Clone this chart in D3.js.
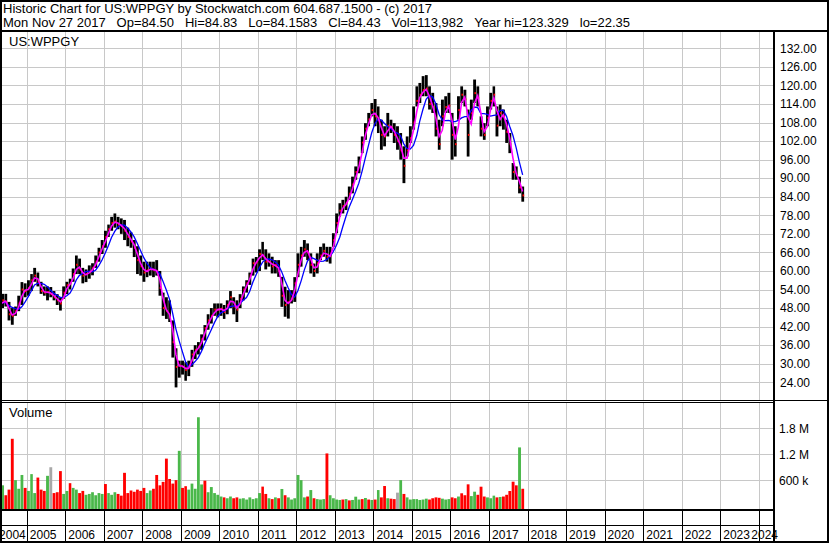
<!DOCTYPE html>
<meta charset="utf-8">
<style>
body { margin: 0; background: #fff; }
svg { display: block; font-family: "Liberation Sans", Arial, sans-serif; }
.grid line { stroke: #c8c8c8; stroke-width: 1; shape-rendering: crispEdges; }
.frame line, .frame rect { stroke: #000; fill: none; shape-rendering: crispEdges; }
.axis text { font-size: 12px; fill: #000; }
.title text { font-size: 13px; fill: #000; }
</style>

<svg width="830" height="543"></svg>

<script src="https://cdnjs.cloudflare.com/ajax/libs/d3/7.8.5/d3.min.js"></script>
<script>

// Monthly bars, first one is Apr 2004 (month index 3)
var firstYear = 2004, firstMonth = 3;

var highs = [
  52, 52.6, 52.6, 50, 48, 48.5, 52, 56.4, 56,                        // 2004 Apr-Dec
  57, 59, 61, 59.5, 56.5, 55, 55, 54.8, 53.5, 52.5, 51.5, 55,         // 2005
  56.5, 57.5, 60.8, 65, 64, 61, 60.5, 61.8, 62.5, 65, 67.5, 70,       // 2006
  73, 75, 77.5, 78.6, 77.5, 77, 76.5, 74, 72.5, 70, 68, 65,           // 2007
  63, 63, 63, 63, 63.5, 60, 53, 51.5, 50.5, 44, 35, 31,               // 2008
  31, 30.5, 31, 34.5, 36, 37, 39.5, 42.5, 46, 48, 49.5, 49.5,         // 2009
  49.5, 49, 50.5, 53.5, 51.5, 50.5, 52.5, 55, 57, 59.5, 64, 64.5,     // 2010
  67, 69.4, 67, 65.7, 64.6, 63.5, 63.5, 58.1, 54.9, 53.8, 53.8, 58,   // 2011
  65.7, 67.8, 70, 68.9, 65.7, 62.4, 65.7, 67.8, 68.9, 67.8, 67.8, 72.2, // 2012
  78.6, 81.9, 83, 84, 87.3, 90.5, 93.8, 97, 103.5, 107.8, 111.1, 114.3, // 2013
  115.6, 113.2, 108.9, 106.8, 111.1, 108.9, 107.8, 106.8, 104.6, 100.3, 103.5, 106.8, // 2014
  113.2, 119.7, 120.8, 123, 123.329, 119.7, 117.6, 114.3, 108.9, 115.4, 116.5, 117.6, // 2015
  111.1, 106.8, 116.5, 119.7, 118.6, 112.2, 115.4, 121.9, 119.7, 110, 107.8, 113.2,   // 2016
  117.6, 119.7, 113.2, 113.8, 112.2, 108.9, 104.6, 94.9, 93.8, 90.5, 87.3             // 2017 Jan-Nov
];

var lows = [
  47, 48, 48.5, 44, 42.6, 45.5, 47, 49, 51.5,
  52, 53.5, 56.5, 55, 52.6, 52, 50.5, 51.5, 50.5, 49, 47.2, 51,
  52.5, 54, 56.5, 59, 59, 56, 56.4, 57.5, 58.6, 61, 63, 65.5,
  67.5, 71, 73, 74, 73.5, 72, 70, 68, 67.5, 64.5, 59, 58.5,
  56.5, 58, 58.5, 58, 58.5, 52, 45.5, 44.5, 43.5, 32, 22.35, 25.5,
  26.5, 24.5, 26, 29, 31.5, 33, 34.5, 37.5, 41, 43, 45.5, 45,
  45.5, 44.5, 46, 48, 46, 43.5, 48, 50.5, 53, 55.5, 58.5, 59.5,
  60, 63.5, 60.5, 61.4, 59.2, 59.2, 58.1, 48.4, 45.2, 44.6, 49.5, 50,
  58, 61.4, 64.6, 63.5, 59.2, 58.1, 59.2, 63.5, 64.6, 63, 62.4, 67.8,
  72.2, 77.6, 78.6, 79.7, 83, 85.1, 89.5, 91.6, 98.1, 102.4, 106.8, 110,
  106.8, 104.6, 99.2, 100.3, 103.5, 104.6, 101.4, 99.2, 96, 88.4, 97, 101.4,
  105.7, 113.2, 114.3, 116.5, 116.5, 112.2, 111.1, 103.5, 99.2, 106.8, 111.1, 111.1,
  96, 97, 108.9, 114.3, 113.2, 97, 108.9, 114.3, 113.2, 103.5, 102.4, 106.8,
  112.2, 113.2, 103.5, 106.8, 105.7, 101.4, 98.1, 89.5, 89.5, 85.1, 82.4
];

var closes = [
  49, 50.5, 50, 46, 45.5, 47, 49.5, 54, 53.5,
  54.5, 57, 58.5, 56.5, 53.5, 53, 53.2, 52.5, 51.5, 50.5, 49.5, 53,
  55.4, 56, 59, 62, 60.5, 58.5, 59, 59.7, 61, 63, 66, 68,
  71, 73.5, 75.5, 76, 75, 74.5, 73, 71, 69.5, 67.5, 63.5, 61.5,
  59.5, 60.2, 60.8, 60.2, 60, 54.5, 48, 47, 45, 37, 29, 29.5,
  29, 28, 29, 33, 34.5, 35.5, 38, 41.5, 44, 45.5, 47.5, 47.5,
  47.8, 46.7, 49, 51.5, 48.5, 47.5, 51, 54, 56, 58.5, 62.5, 62.8,
  65.5, 65, 63, 63, 61.5, 62, 60, 52, 49, 50, 51, 56,
  62, 65, 67, 66, 62, 60, 62.5, 65, 66.5, 64.5, 65, 70,
  75.5, 79.5, 81, 82, 85, 88, 92, 95, 101.5, 106, 109, 112,
  110, 109, 104, 103.5, 107, 106.5, 104, 102, 99, 94, 99, 103,
  108, 115, 117, 118.5, 119, 114, 113, 106, 101, 110, 113, 113.5,
  104, 101, 112, 117, 115.5, 104, 111, 117.5, 116, 106, 104, 109.5,
  115, 117, 107, 111, 110, 105, 101, 92, 91, 87, 84.43
];

// volume in thousands of shares
var volumes = [
  300, 480, 250, 380, 1560, 600, 400, 720, 420,
  350, 740, 300, 660, 380, 350, 700, 900, 300, 320, 810, 280,
  350, 530, 420, 380, 300, 350, 260, 280, 320, 250, 300, 280,
  510, 300, 260, 320, 280, 240, 770, 300, 360, 330, 380, 350,
  420, 300, 360, 400, 720, 480, 560, 1100, 627, 520, 600, 1280,
  420, 460, 380, 520, 400, 2060, 500, 588, 320, 440, 300, 260,
  220, 200, 180, 220, 180, 200, 170, 180, 150, 200, 160, 180,
  300, 450, 280, 180, 160, 200, 180, 395, 250, 200, 150, 180,
  720, 600, 200, 220, 370, 180, 160, 150, 160, 1220, 250, 180,
  150, 140, 150, 160, 130, 140, 216, 150, 160, 186, 150, 140,
  150, 370, 200, 464, 180, 170, 160, 310, 600, 280, 200, 150,
  160, 160, 140, 150, 170, 150, 180, 200, 190, 170, 150, 160,
  200, 180, 220, 295, 250, 503, 230, 332, 260, 448, 220, 200,
  180, 240, 200, 210, 220, 260, 348, 564, 480, 1360, 400
];

// g = up, r = down, n = unchanged
var volTone = [
  "ggrrrgggr", "gggrrrgnrrrg", "grggrrgggggg", "rgggrrrrrrrr", "rggrrrrrrrrg",
  "rrgggggrgggg", "grggrrgggggg", "grrgrgrgrggg", "gggrgrgggrgg", "ggrgrgggrgrg",
  "rgrrgrrngrgg", "gggggrrrrggg", "rrgrrrggrrrg", "ggrgrrrrrgr"
].join("");

var priceTicks = [24, 30, 36, 42, 48, 54, 60, 66, 72, 78, 84, 90, 96, 102, 108, 114, 120, 126, 132];
var volTicks = [600, 1200, 1800];
var volTickLabels = ["600 k", "1.2 M", "1.8 M"];
var years = [2004, 2005, 2006, 2007, 2008, 2009, 2010, 2011, 2012, 2013, 2014,
             2015, 2016, 2017, 2018, 2019, 2020, 2021, 2022, 2023, 2024];

var headLine1 = "Historic Chart for US:WPPGY by Stockwatch.com 604.687.1500 - (c) 2017";
var headFields = ["Mon Nov 27 2017", "Op=84.50", "Hi=84.83", "Lo=84.1583", "Cl=84.43",
                  "Vol=113,982", "Year hi=123.329", "lo=22.35"];

var toneColor = { g: "#4ab84a", r: "#ff0000", n: "#a8a8a8" };

var svg = d3.select("svg");
var plotRight = 774;

var x = d3.scaleTime()
    .domain([new Date(2004, 3, 22), new Date(2024, 4, 25)])
    .range([0, plotRight]);
var y = d3.scaleLinear().domain([24, 132]).range([382.3, 48.3]);
var yv = d3.scaleLinear().domain([0, 2400]).range([506, 402.6]);

function crisp(v) { return Math.round(v) + 0.5; }
function monthStart(i) { return new Date(firstYear, firstMonth + i, 1); }
function monthMid(i) { return new Date(firstYear, firstMonth + i, 15); }

// moving averages of the monthly closes
function movingAvg(n) {
  return closes.map(function(d, i) {
    return d3.mean(closes.slice(Math.max(0, i - n + 1), i + 1));
  });
}
var maFast = movingAvg(2), maSlow = movingAvg(5);

var defs = svg.append("defs");
defs.append("clipPath").attr("id", "clipPrice")
  .append("rect").attr("x", 0).attr("y", 33).attr("width", plotRight).attr("height", 366);
defs.append("clipPath").attr("id", "clipVol")
  .append("rect").attr("x", 0).attr("y", 403).attr("width", plotRight).attr("height", 106);

// Grid
var grid = svg.append("g").attr("class", "grid");
grid.selectAll(".hp").data(priceTicks).enter().append("line")
    .attr("x1", 0).attr("x2", plotRight)
    .attr("y1", function(d) { return crisp(y(d)); })
    .attr("y2", function(d) { return crisp(y(d)); });
grid.selectAll(".hv").data(volTicks).enter().append("line")
    .attr("x1", 0).attr("x2", plotRight)
    .attr("y1", function(d) { return crisp(yv(d)); })
    .attr("y2", function(d) { return crisp(yv(d)); });
var gridYears = years.slice(1);
grid.selectAll(".vp").data(gridYears).enter().append("line")
    .attr("x1", function(d) { return crisp(x(new Date(d, 0, 1))); })
    .attr("x2", function(d) { return crisp(x(new Date(d, 0, 1))); })
    .attr("y1", 32).attr("y2", 400);
grid.selectAll(".vv").data(gridYears).enter().append("line")
    .attr("x1", function(d) { return crisp(x(new Date(d, 0, 1))); })
    .attr("x2", function(d) { return crisp(x(new Date(d, 0, 1))); })
    .attr("y1", 402).attr("y2", 509);

// Price bars
var price = svg.append("g").attr("clip-path", "url(#clipPrice)");
price.selectAll(".bar").data(closes).enter().append("rect")
    .attr("x", function(d, i) { return x(monthStart(i)) + 0.2; })
    .attr("width", function(d, i) { return x(monthStart(i + 1)) - x(monthStart(i)) - 0.4; })
    .attr("y", function(d, i) { return y(highs[i]); })
    .attr("height", function(d, i) { return y(lows[i]) - y(highs[i]); })
    .attr("fill", "#000");
price.selectAll(".tick").data(closes).enter().append("rect")
    .attr("x", function(d, i) { return x(monthStart(i + 1)) - 1.8; })
    .attr("width", 1.6)
    .attr("y", function(d) { return y(d) - 1; })
    .attr("height", 2)
    .attr("fill", "#ff0000");

var line = d3.line()
    .x(function(d, i) { return x(monthMid(i)); })
    .y(function(d) { return y(d); });
price.append("path").datum(maSlow)
    .attr("d", line).attr("fill", "none").attr("stroke", "#0000ff").attr("stroke-width", 1.3);
price.append("path").datum(maFast)
    .attr("d", line).attr("fill", "none").attr("stroke", "#ff00ff").attr("stroke-width", 1.6);

// Volume bars
var vol = svg.append("g").attr("clip-path", "url(#clipVol)");
vol.selectAll("rect").data(volumes).enter().append("rect")
    .attr("x", function(d, i) { return x(monthStart(i)) + 0.2; })
    .attr("width", function(d, i) { return x(monthStart(i + 1)) - x(monthStart(i)) - 0.4; })
    .attr("y", function(d) { return yv(d); })
    .attr("height", function(d) { return 509 - yv(d); })
    .attr("fill", function(d, i) { return toneColor[volTone[i]]; });

// Titles
var title = svg.append("g").attr("class", "title");
title.append("text").attr("x", 3).attr("y", 12.5).text(headLine1);

// second header line: fields spread evenly from x=3 to x=630
var line2 = title.append("text").attr("y", 26.5);
var spans = line2.selectAll("tspan").data(headFields).enter().append("tspan")
    .text(function(d) { return d; });
var widths = spans.nodes().map(function(n) { return n.getComputedTextLength(); });
var gap = (627 - d3.sum(widths)) / (headFields.length - 1);
var cx = 3;
spans.attr("x", function(d, i) { var p = cx; cx += widths[i] + gap; return p; });

title.append("text").attr("x", 9).attr("y", 46).text("US:WPPGY");
title.append("text").attr("x", 9).attr("y", 417).text("Volume");

// Right axis labels
var axis = svg.append("g").attr("class", "axis");
axis.selectAll(".pl").data(priceTicks).enter().append("text")
    .attr("x", 780).attr("y", function(d) { return y(d) + 4.3; })
    .text(function(d) { return d3.format(".2f")(d); });
axis.selectAll(".vl").data(volTicks).enter().append("text")
    .attr("x", 779).attr("y", function(d) { return yv(d) + 4.5; })
    .text(function(d, i) { return volTickLabels[i]; });

// Year labels under the date strip
axis.selectAll(".yl").data(years).enter().append("text")
    .attr("y", 539)
    .text(function(d) { return d; })
    .attr("x", function(d) {
      var w = this.getComputedTextLength();
      var lx = x(new Date(d, 0, 1)) + 3;
      if (lx < 0) lx = x(new Date(d + 1, 0, 1)) - 1 - w;
      if (lx + w > 778) lx = 778 - w;
      return lx;
    });

// Frame
var frame = svg.append("g").attr("class", "frame");
frame.append("rect").attr("x", 1).attr("y", 1).attr("width", 827).attr("height", 541)
    .attr("stroke-width", 2);
frame.append("line").attr("x1", 0).attr("x2", 829).attr("y1", 31).attr("y2", 31)
    .attr("stroke-width", 2);
frame.append("line").attr("x1", 774).attr("x2", 774).attr("y1", 31).attr("y2", 542)
    .attr("stroke-width", 2);
frame.append("line").attr("x1", 0).attr("x2", 829).attr("y1", 400.5).attr("y2", 400.5);
frame.append("line").attr("x1", 0).attr("x2", plotRight).attr("y1", 402.5).attr("y2", 402.5);
frame.append("line").attr("x1", 0).attr("x2", plotRight).attr("y1", 510).attr("y2", 510)
    .attr("stroke-width", 2);
frame.append("line").attr("x1", 0).attr("x2", plotRight).attr("y1", 525.5).attr("y2", 525.5);
frame.selectAll(".ys").data(gridYears).enter().append("line")
    .attr("x1", function(d) { return crisp(x(new Date(d, 0, 1))); })
    .attr("x2", function(d) { return crisp(x(new Date(d, 0, 1))); })
    .attr("y1", 510).attr("y2", 542);

</script>
